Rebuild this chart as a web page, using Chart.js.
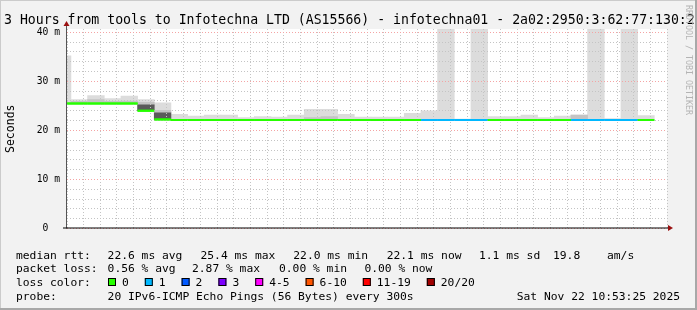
<!DOCTYPE html>
<html><head><meta charset="utf-8">
<script src="https://cdn.jsdelivr.net/npm/chart.js@4/dist/chart.umd.min.js"></script>
<style>html,body{margin:0;padding:0;background:#f2f2f2;overflow:hidden}canvas{display:block}</style>
</head><body>
<canvas id="c" width="697" height="310"></canvas>
<script>
// ---- data ----
const binStart = ['07:50','07:55','08:00','08:05','08:10','08:15','08:20','08:25','08:30','08:35','08:40','08:45',
  '08:50','08:55','09:00','09:05','09:10','09:15','09:20','09:25','09:30','09:35','09:40','09:45',
  '09:50','09:55','10:00','10:05','10:10','10:15','10:20','10:25','10:30','10:35','10:40','10:45'];
// median rtt per 5 min step (ms)
const medianRtt = [25.5,25.5,25.5,25.5,25.5,24.0,22.2,22.1,22.1,22.1,22.1,22.1,
  22.1,22.1,22.1,22.1,22.1,22.1,22.1,22.1,22.1,22.1,22.1,22.1,
  22.1,22.1,22.1,22.1,22.1,22.1,22.1,22.1,22.1,22.1,22.1,22.1];
// lost pings per step (index into loss colours)
const lossIdx = [0,0,0,0,0,0,0,0,0,0,0,0, 0,0,0,0,0,0,0,0,0,0,1,1, 1,1,0,0,0,0,0,1,1,1,1,0];
// smoke: lowest / highest ping (ms); 41 = beyond top of graph
const smokeMin = [25.4,25.4,25.4,25.4,25.4,23.9,22.1,22.0,22.0,22.0,22.0,22.0,
  22.0,22.0,22.0,22.0,22.0,22.0,22.0,22.0,22.0,22.0,22.0,22.0,
  22.0,22.0,22.0,22.0,22.0,22.0,22.0,22.0,22.0,22.0,22.0,22.0];
const smokeMax = [35.2,26.3,27.1,26.5,27.0,26.3,25.6,23.3,22.9,23.1,23.1,22.6,
  22.8,22.7,23.1,24.3,24.3,23.3,22.7,22.7,22.7,23.5,24.0,41,
  22.3,41,22.8,22.8,23.1,22.6,22.9,23.1,41,22.4,41,23.0];
// denser smoke bands
const midLo  = [null,25.5,25.6,25.5,25.5,25.2,23.6,null,null,null,null,null, null,null,null,22.1,22.1,null,null,null,null,null,null,null, null,null,null,null,null,null,null,22.1,null,null,null,null];
const midHi  = [null,25.9,26.3,25.9,26.0,25.7,24.1,null,null,null,null,null, null,null,null,22.6,22.8,null,null,null,null,null,null,null, null,null,null,null,null,null,null,23.1,null,null,null,null];
const darkLo = [null,null,null,null,null,24.0,22.2,null,null,null,null,null, null,null,null,null,null,null,null,null,null,null,null,null, null,null,null,null,null,null,null,null,null,null,null,null];
const darkHi = [null,null,null,null,null,25.2,23.6,null,null,null,null,null, null,null,null,null,null,null,null,null,null,null,null,null, null,null,null,null,null,null,null,null,null,null,null,null];

const lossColors = ['#26ff00','#00b8ff','#0059ff','#7e00ff','#ff00ff','#ff5500','#ff0000','#a00000'];
const lossLabels = ['0','1','2','3','4-5','6-10','11-19','20/20'];

const titleText = '3 Hours from tools to Infotechna LTD (AS15566) - infotechna01 - 2a02:2950:3:62:77:130:2';
const rttRow  = ['median rtt:','22.6 ms avg','25.4 ms max','22.0 ms min','22.1 ms now','1.1 ms sd','19.8','am/s'];
const lossRow = ['packet loss:','0.56 % avg','2.87 % max','0.00 % min','0.00 % now'];
const probeRow = ['probe:','20 IPv6-ICMP Echo Pings (56 Bytes) every 300s'];
const stampText = 'Sat Nov 22 10:53:25 2025';
const watermark = 'RRDTOOL / TOBI OETIKER';

// ---- helpers ----
const STEP = 5;
const toMin = s => { const p = s.split(':').map(Number); return p[0]*60 + p[1]; };
const fmt = v => String(Math.floor(v/60)).padStart(2,'0') + ':' + String(v%60).padStart(2,'0');
const MONO = "'DejaVu Sans Mono'";

const medianPts = [];
binStart.forEach((s,i) => {
  const t = toMin(s);
  medianPts.push({x:t, y:medianRtt[i]}, {x:t+STEP, y:medianRtt[i]}, {x:t+STEP, y:null});
});
const band = (lo, hi) => binStart.map((s,i) => ({x: toMin(s)+STEP/2, y: (lo[i]==null||hi[i]==null) ? null : [lo[i], hi[i]]}));

const RED = '#f4a4a4', GREY = '#c4c4c4';
const barCommon = {grouped:false, barPercentage:1, categoryPercentage:1, clip:0, borderWidth:0};

const deco = {
  id:'deco',
  beforeDraw(chart){
    const {ctx, chartArea:a} = chart;
    ctx.save();
    ctx.fillStyle = '#f2f2f2'; ctx.fillRect(0,0,chart.width,chart.height);
    ctx.fillStyle = '#ffffff'; ctx.fillRect(a.left, a.top, a.right-a.left, a.bottom-a.top);
    ctx.restore();
  },
  afterDraw(chart){
    const {ctx, chartArea:a} = chart;
    // median line above the grid
    ctx.save();
    ctx.beginPath(); ctx.rect(a.left, a.top, a.right-a.left, a.bottom-a.top); ctx.clip();
    chart.getDatasetMeta(0).controller.draw();
    ctx.restore();

    ctx.save();
    // axes
    ctx.lineWidth = 1;
    ctx.strokeStyle = '#555';
    ctx.beginPath(); ctx.moveTo(a.left-0.5, a.bottom); ctx.lineTo(a.left-0.5, a.top-4); ctx.stroke();
    ctx.strokeStyle = '#000';
    ctx.beginPath(); ctx.moveTo(a.left-4, a.bottom-0.5); ctx.lineTo(a.right+2, a.bottom-0.5); ctx.stroke();
    ctx.fillStyle = '#9a1010';
    ctx.beginPath(); ctx.moveTo(a.left-0.5, a.top-8); ctx.lineTo(a.left-3.5, a.top-3); ctx.lineTo(a.left+2.5, a.top-3); ctx.closePath(); ctx.fill();
    ctx.beginPath(); ctx.moveTo(a.right+6, a.bottom-0.5); ctx.lineTo(a.right+1, a.bottom-3.5); ctx.lineTo(a.right+1, a.bottom+2.5); ctx.closePath(); ctx.fill();

    // title
    ctx.fillStyle = '#000';
    ctx.textBaseline = 'alphabetic';
    ctx.textAlign = 'left';
    ctx.font = '13.2px ' + MONO;
    ctx.fillText(titleText, 4, 24);

    // watermark
    ctx.save();
    ctx.translate(688, 5);
    ctx.rotate(Math.PI/2);
    ctx.font = '8.3px ' + MONO;
    ctx.fillStyle = '#b4b4b4';
    ctx.textBaseline = 'middle';
    ctx.fillText(watermark, 0, 0);
    ctx.restore();

    // legend rows
    ctx.font = '11.3px ' + MONO;
    ctx.fillStyle = '#000';
    const rttX = [16,107.6,200.5,293.3,386.7,479,553,607];
    rttRow.forEach((t,i) => ctx.fillText(t, rttX[i], 258.5));
    const lossX = [16,107.6,192,279,364.4];
    lossRow.forEach((t,i) => ctx.fillText(t, lossX[i], 272));
    ctx.fillText('loss color:', 16, 285.5);
    let bx = 108;
    lossLabels.forEach((lab,i) => {
      ctx.fillStyle = lossColors[i];
      ctx.fillRect(bx, 278, 8, 8);
      ctx.strokeStyle = '#000';
      ctx.strokeRect(bx+0.5, 278.5, 7, 7);
      ctx.fillStyle = '#000';
      const lx = bx + 14;
      ctx.fillText(lab, lx, 285.5);
      bx = lx + ctx.measureText(lab).width + 16;
    });
    ctx.fillText(probeRow[0], 16, 299.5);
    ctx.fillText(probeRow[1], 107.6, 299.5);
    ctx.textAlign = 'right';
    ctx.fillText(stampText, 680, 299.5);

    // frame
    ctx.fillStyle = '#cbcbcb';
    ctx.fillRect(0,0,chart.width,1); ctx.fillRect(0,0,1,chart.height);
    ctx.fillStyle = '#a8a8a8';
    ctx.fillRect(0,chart.height-2,chart.width,2); ctx.fillRect(chart.width-2,0,2,chart.height);
    ctx.restore();
  }
};

new Chart(document.getElementById('c'), {
  type: 'bar',
  data: { datasets: [
    {type:'line', label:'median', data: medianPts, order:0, borderWidth:2, pointRadius:0, borderCapStyle:'butt',
     spanGaps:false, clip:0, borderColor: lossColors[0],
     segment:{ borderColor: c => lossColors[lossIdx[Math.floor(c.p0DataIndex/3)]] }},
    Object.assign({label:'smoke dark', data: band(darkLo, darkHi), order:1, backgroundColor:'#5a5a5a'}, barCommon),
    Object.assign({label:'smoke mid', data: band(midLo, midHi), order:2, backgroundColor:'#c4c4c4'}, barCommon),
    Object.assign({label:'smoke', data: band(smokeMin, smokeMax), order:3, backgroundColor:'#dcdcdc'}, barCommon)
  ]},
  options: {
    responsive:false, animation:false, devicePixelRatio:1,
    layout:{padding:{top:29, right:30, left:0, bottom:0}},
    plugins:{legend:{display:false}, tooltip:{enabled:false}, title:{display:false}},
    scales:{
      x:{type:'linear', min:473.82, max:653.82, offset:false,
         afterFit: s => { s.height = 81.5; },
         grid:{offset:false, z:1, drawTicks:false, lineWidth:1,
               color: c => (c.tick && c.tick.value % 20 === 0) ? RED : GREY},
         border:{display:false, dash:[1,2]},
         ticks:{stepSize:5, includeBounds:false, autoSkip:false, maxRotation:0, minRotation:0, padding:3,
                color:'#000', font:{family:MONO, size:9.8},
                callback: v => (v % 20 === 0) ? fmt(v) : ''}},
      y:{min:0, max:40.67,
         afterFit: s => { s.width = 67; },
         grid:{z:1, drawTicks:false, lineWidth:1,
               color: c => (c.tick && c.tick.value % 10 === 0) ? RED : GREY},
         border:{display:false, dash:[1,2]},
         ticks:{stepSize:2, includeBounds:false, autoSkip:false, padding:7,
                color:'#000', font:{family:MONO, size:9.7},
                callback: v => (v % 10 === 0) ? (v === 0 ? '0  ' : v + ' m') : ''},
         title:{display:true, text:'Seconds', color:'#000', font:{family:MONO, size:11.5}, padding:{top:4, bottom:0}}}
    }
  },
  plugins:[deco]
});
</script>
</body></html>
